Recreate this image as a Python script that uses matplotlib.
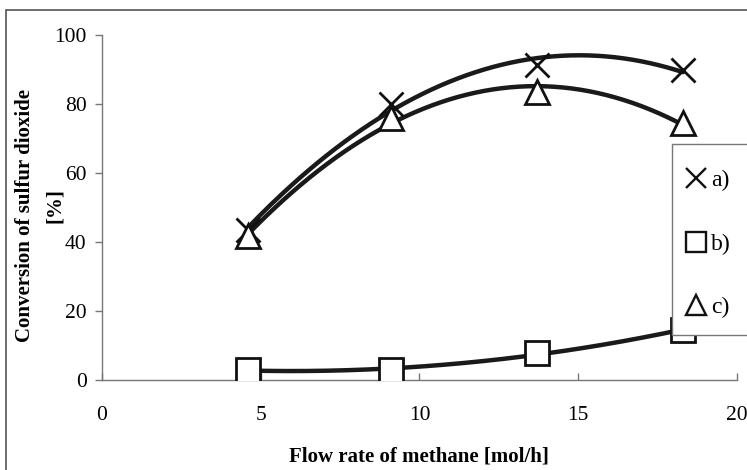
import numpy as np
import matplotlib
matplotlib.use("Agg")
import matplotlib.pyplot as plt
from matplotlib.patches import Rectangle

plt.rcParams['font.family'] = ['Liberation Serif', 'DejaVu Serif']

flow = [4.6, 9.1, 13.7, 18.3]
series_a = [43.5, 80.0, 91.3, 89.9]
series_b = [2.9, 2.9, 7.8, 14.5]
series_c = [41.7, 76.0, 83.5, 74.5]
labels = ["a)", "b)", "c)"]
markers = ["x", "s", "^"]

W, H = 747, 470
fig = plt.figure(figsize=(W / 100, H / 100), dpi=100)
ax = fig.add_axes([0.1365, 0.1915, 0.85, 0.734])

# outer frame (extends past the right/bottom edges)
fig.patches.append(Rectangle((6 / W, -0.1), 1.2, 0.1 + 1 - 10 / H, transform=fig.transFigure,
                             fill=False, edgecolor='#555555', lw=1.2, zorder=1))

handles = []
for ys, lab, m in zip([series_a, series_b, series_c], labels, markers):
    coef = np.polyfit(flow, ys, 2)
    xs = np.linspace(flow[0], flow[-1], 200)
    ax.plot(xs, np.polyval(coef, xs), color='#1a1a1a', lw=3.2, solid_capstyle='round', zorder=2)
    if m == 'x':
        h, = ax.plot(flow, ys, linestyle='none', marker='x', ms=17, mew=2.0, color='#111111', zorder=3)
    else:
        h, = ax.plot(flow, ys, linestyle='none', marker=m, ms=17, mew=2.0, mfc='white', mec='#111111', zorder=3)
    handles.append(h)

ax.set_xlim(0, 20)
ax.set_ylim(0, 100)
ax.set_xticks([0, 5, 10, 15, 20])
ax.set_yticks([0, 20, 40, 60, 80, 100])
for s in ['top', 'right']:
    ax.spines[s].set_visible(False)
for s in ['left', 'bottom']:
    ax.spines[s].set_color('#777777')
    ax.spines[s].set_linewidth(1.0)
ax.tick_params(axis='both', labelsize=15.5, color='#777777', length=5, width=1)
ax.tick_params(axis='x', direction='in', pad=19)
ax.tick_params(axis='y', direction='out', pad=6)

# axis titles
fig.text(419 / W, 1 - 457 / H, "Flow rate of methane [mol/h]", fontsize=15, fontweight='bold',
         ha='center', va='center')
fig.text(25 / W, 1 - 215 / H, "Conversion of sulfur dioxide", fontsize=15, fontweight='bold',
         ha='center', va='center', rotation=90)
fig.text(55 / W, 1 - 206 / H, "[%]", fontsize=15, fontweight='bold',
         ha='center', va='center', rotation=90)

# legend box (drawn over the plot area, running off the right edge)
fig.patches.append(Rectangle((672 / W, 1 - 335 / H), 0.2, (335 - 144) / H, transform=fig.transFigure,
                             facecolor='white', edgecolor='#777777', lw=1.0, zorder=4))
leg = fig.legend(handles, labels, loc='upper left', bbox_to_anchor=(686 / W, 1 - 170 / H), fontsize=17,
                 frameon=False, handlelength=0.85, handletextpad=0.2, labelspacing=1.77,
                 borderpad=0, borderaxespad=0)
leg.set_zorder(5)
for h in leg.legend_handles:
    h.set_markersize(14)
    h.set_markeredgewidth(1.7)

fig.savefig("out.png", dpi=100)
